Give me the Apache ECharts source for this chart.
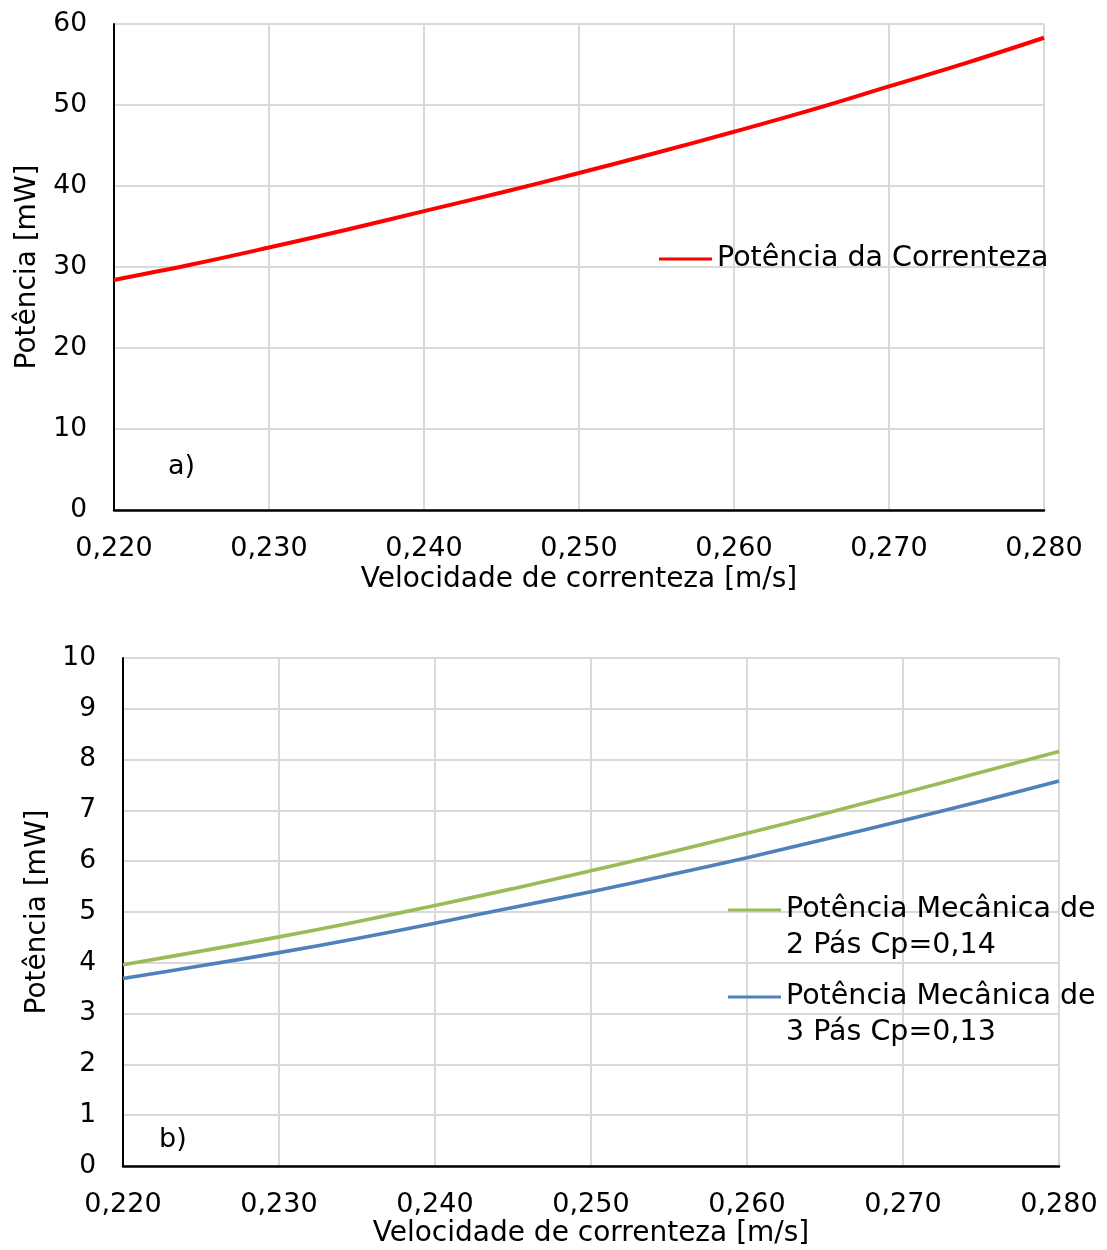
<!DOCTYPE html>
<html>
<head>
<meta charset="utf-8">
<script src="https://cdn.jsdelivr.net/npm/echarts@6/dist/echarts.min.js"></script>
<style>
  html, body { margin: 0; padding: 0; background: #ffffff; }
  #chart { width: 1107px; height: 1250px; }
</style>
</head>
<body>
<div id="chart"></div>
<script>
// Velocidade de correnteza [m/s]
const velocidade = [0.220, 0.225, 0.230, 0.235, 0.240, 0.245, 0.250, 0.255, 0.260, 0.265, 0.270, 0.275, 0.280];

// (a) Potência disponível na correnteza [mW]
const potenciaCorrenteza = [28.4, 30.3, 32.4, 34.6, 36.9, 39.2, 41.6, 44.1, 46.7, 49.4, 52.3, 55.2, 58.3];

// (b) Potência mecânica das turbinas [mW]
const potencia2Pas = [3.96, 4.23, 4.51, 4.81, 5.13, 5.46, 5.81, 6.17, 6.55, 6.94, 7.34, 7.75, 8.16];
const potencia3Pas = [3.69, 3.94, 4.20, 4.48, 4.78, 5.09, 5.40, 5.73, 6.07, 6.43, 6.80, 7.18, 7.58];

// Escalas: [mínimo, máximo, intervalo]
const escalaVelocidade = [0.22, 0.28, 0.01];
const escalaPotenciaA = [0, 60, 10];
const escalaPotenciaB = [0, 10, 1];

const nomes = [
  'Potência da Correnteza',
  'Potência Mecânica de 2 Pás Cp=0,14',
  'Potência Mecânica de 3 Pás Cp=0,13'
];
// Rótulos da legenda; nas de duas linhas, uma linha vazia acima mantém
// o traço alinhado com a primeira linha do texto.
const rotulosLegenda = {
  'Potência da Correnteza': 'Potência da Correnteza',
  'Potência Mecânica de 2 Pás Cp=0,14': ' \nPotência Mecânica de\n2 Pás Cp=0,14',
  'Potência Mecânica de 3 Pás Cp=0,13': ' \nPotência Mecânica de\n3 Pás Cp=0,13'
};

const FONTE = 'DejaVu Sans';
const GRADE = '#d9d9d9';

const pares = (ys) => velocidade.map((v, i) => [v, ys[i]]);
const fmtVel = (v) => v.toFixed(3).replace('.', ',');

function eixoX(gridIndex, escala, gap) {
  return {
    type: 'value', gridIndex,
    min: escala[0], max: escala[1], interval: escala[2],
    name: 'Velocidade de correnteza [m/s]',
    nameLocation: 'middle', nameGap: gap,
    nameTextStyle: { fontFamily: FONTE, fontSize: 28, color: '#000' },
    axisLine: { show: true, lineStyle: { color: '#000', width: 2.5 } },
    axisTick: { show: false },
    axisLabel: { fontFamily: FONTE, fontSize: 27, color: '#000', margin: 25,
                 formatter: fmtVel, showMinLabel: true, showMaxLabel: true },
    splitLine: { show: true, lineStyle: { color: GRADE, width: 2 } }
  };
}

function eixoY(gridIndex, escala, gap) {
  return {
    type: 'value', gridIndex,
    min: escala[0], max: escala[1], interval: escala[2],
    name: 'Potência [mW]',
    nameLocation: 'middle', nameGap: gap,
    nameTextStyle: { fontFamily: FONTE, fontSize: 28, color: '#000' },
    axisLine: { show: true, lineStyle: { color: '#000', width: 2 } },
    axisTick: { show: false },
    axisLabel: { fontFamily: FONTE, fontSize: 26.5, color: '#000', margin: 27 },
    splitLine: { show: true, lineStyle: { color: GRADE, width: 2 } }
  };
}

function legenda(nome, left, top) {
  return {
    data: [nome],
    orient: 'vertical',
    left, top,
    padding: 0,
    icon: 'rect',
    itemWidth: 53, itemHeight: 3,
    selectedMode: false,
    formatter: (n) => rotulosLegenda[n],
    textStyle: { fontFamily: FONTE, fontSize: 28.5, color: '#000', lineHeight: 36 }
  };
}

const option = {
  animation: false,
  backgroundColor: '#ffffff',
  grid: [
    { left: 114, top: 24, width: 930, height: 486 },
    { left: 123, top: 658, width: 936, height: 508 }
  ],
  xAxis: [eixoX(0, escalaVelocidade, 56), eixoX(1, escalaVelocidade, 54)],
  yAxis: [eixoY(0, escalaPotenciaA, 72), eixoY(1, escalaPotenciaB, 70)],
  legend: [
    legenda(nomes[0], 659, 241),
    legenda(nomes[1], 728, 856),
    legenda(nomes[2], 728, 943)
  ],
  graphic: [
    { type: 'text', left: 168, top: 453,
      style: { text: 'a)', fontFamily: FONTE, fontSize: 27, fill: '#000' } },
    { type: 'text', left: 159, top: 1126,
      style: { text: 'b)', fontFamily: FONTE, fontSize: 27, fill: '#000' } }
  ],
  series: [
    { name: nomes[0], type: 'line', xAxisIndex: 0, yAxisIndex: 0,
      data: pares(potenciaCorrenteza), smooth: 0.4, symbol: 'none',
      color: '#ff0000', lineStyle: { color: '#ff0000', width: 4 } },
    { name: nomes[1], type: 'line', xAxisIndex: 1, yAxisIndex: 1,
      data: pares(potencia2Pas), smooth: 0.4, symbol: 'none',
      color: '#9bbb59', lineStyle: { color: '#9bbb59', width: 3.6 } },
    { name: nomes[2], type: 'line', xAxisIndex: 1, yAxisIndex: 1,
      data: pares(potencia3Pas), smooth: 0.4, symbol: 'none',
      color: '#4f81bd', lineStyle: { color: '#4f81bd', width: 3.6 } }
  ]
};

const chart = echarts.init(document.getElementById('chart'), null, { renderer: 'canvas' });
chart.setOption(option);
</script>
</body>
</html>
